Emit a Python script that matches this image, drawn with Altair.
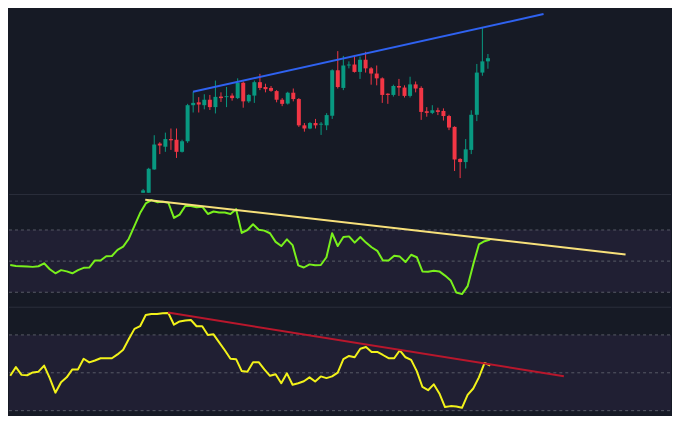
import altair as alt
import pandas as pd

# ---------------- data ----------------
# candle index 0..62
opens = [108, 108, 132.3, 159.3, 156, 164, 163.3, 150.7, 161.7, 199.3,
         202.3, 199.3, 205, 197.3, 208.3, 207.7, 209.3, 206.7, 222.7, 203.3,
         209.3, 223.3, 218.3, 217.3, 214, 205, 201, 212.3, 205.7, 178.3,
         175, 180.7, 179, 178.3, 188.3, 235.7, 217.3, 240.7, 241.7, 234,
         246.7, 237.7, 232.3, 227.3, 211.3, 210, 219.3, 217.7, 209, 221,
         217.3, 193, 191.3, 194, 193.3, 188, 176.7, 143.3, 140, 152.7,
         189.3, 233.3, 245]
closes = [110.5, 133, 158.3, 157.3, 164, 162.7, 150.7, 161.7, 199.3, 201.7,
          200, 205, 197.3, 208, 206.7, 208.7, 206.7, 222.7, 203.3, 210,
          223.3, 217.3, 216, 214.3, 205, 200.7, 212.3, 205.7, 178.3, 175,
          180.7, 178.3, 180, 189, 235.7, 218.3, 240.7, 241.7, 234, 246.7,
          237.7, 232.3, 227.3, 210, 210, 219.3, 217.7, 209, 221, 216.7,
          192.3, 191.3, 194, 192.3, 188, 176, 142.7, 140, 153.3, 189.3,
          233.3, 245, 248.3]
highs = [112, 134, 168, 160.7, 170.7, 175, 175, 163.3, 200.7, 213.3,
         207.7, 210.7, 210, 225, 212.7, 218.3, 211.7, 227.3, 224, 210.7,
         225, 232, 221.7, 219.3, 215, 206.7, 213.3, 216.7, 206.7, 180.7,
         181.7, 185, 181.7, 191, 236.7, 255.7, 250.7, 245, 251.7, 250,
         255, 239, 240.7, 228.3, 211.7, 220.7, 226.7, 220, 229, 224,
         219, 197.3, 199.3, 196.7, 196, 189.3, 177.3, 144, 164, 194,
         242.3, 280, 252.7]
lows = [108, 108, 132, 148.3, 150.7, 152.7, 144.3, 150, 160, 191.7,
        191.7, 195, 194.3, 190.7, 202.7, 197.3, 204, 205.7, 196.7, 201.7,
        201.7, 215, 212.7, 213.3, 202.3, 198.3, 200, 203.3, 176.7, 171.7,
        174.3, 175, 168.3, 173.3, 185, 216.7, 215, 237.7, 233.3, 226.7,
        233.3, 220.7, 220, 201.7, 200.7, 208.3, 209, 207.3, 207.3, 212.7,
        184, 187.3, 190, 189, 183.3, 173.3, 130.7, 123.3, 133.3, 148.3,
        182.7, 230, 237.3]

# RSI, index -23..62
rsi_start = -23
rsi = [47.5, 46.9, 46.7, 46.5, 46.3, 46.7, 48.6, 44.8, 42.2, 44.2,
       43.4, 42.2, 44.2, 45.7, 45.9, 50.4, 50.4, 53.1, 53.3, 57.2,
       59.3, 64.4, 72.7, 80.9, 87.1, 89.2, 87.9, 88.1, 87.5, 77.8,
       79.9, 85.4, 85.4, 84.6, 85.0, 80.3, 81.9, 81.3, 81.3, 80.3,
       83.4, 68.1, 70.0, 73.7, 70.2, 69.6, 67.9, 62.4, 59.7, 64.0,
       60.3, 47.3, 45.9, 47.9, 47.3, 47.5, 52.5, 67.9, 59.7, 65.5,
       65.9, 61.9, 65.5, 61.9, 58.9, 56.6, 50.4, 50.4, 53.5, 52.9,
       49.4, 54.1, 52.5, 43.4, 43.2, 43.8, 43.4, 40.7, 37.6, 29.8,
       28.8, 33.9, 47.9, 60.7, 62.8, 63.8]

# second oscillator, index -23..62
osc = [48.4, 53.0, 48.9, 48.7, 50.2, 50.6, 53.8, 47.2, 39.5, 45.0,
       47.6, 51.8, 51.8, 57.4, 55.5, 56.5, 57.7, 57.7, 57.7, 59.7,
       62.2, 67.8, 73.2, 74.6, 80.5, 81.0, 81.1, 81.5, 81.6, 75.4,
       77.1, 77.6, 77.9, 74.6, 74.6, 70.0, 70.3, 66.1, 61.9, 57.4,
       57.2, 50.9, 50.6, 55.6, 55.6, 51.8, 48.4, 49.2, 44.5, 49.7,
       43.7, 44.5, 45.5, 47.6, 45.4, 48.1, 47.2, 48.1, 50.1, 57.2,
       58.9, 58.2, 62.7, 63.6, 61.0, 61.0, 59.4, 57.7, 57.7, 61.9,
       58.2, 56.8, 50.9, 42.5, 40.8, 43.9, 39.1, 31.9, 32.4, 32.2,
       31.5, 38.3, 41.7, 47.6, 55.2, 53.8]

# trend lines (index, value)
price_trend_i = [8.97, 72.0]
price_trend_v = [213.3, 294.3]
rsi_trend_i = [0.91, 85.97]
rsi_trend_v = [89.5, 54.3]
osc_trend_i = [4.93, 75.05]
osc_trend_v = [81.8, 48.2]

levels = [70, 50, 30]

# ---------------- styling ----------------
W = 664
H_PRICE, H_RSI, H_OSC = 185, 113, 109
BG = "#161a25"
BAND = "#201f33"
SEP = "#2b2f3b"
UP, DOWN = "#089981", "#f23645"
X_DOMAIN = [-23.22, 94.02]

xenc = alt.X("i:Q", scale=alt.Scale(domain=X_DOMAIN, nice=False, zero=False), axis=None)

candles = pd.DataFrame({"i": list(range(len(opens))), "open": opens, "close": closes,
                        "high": highs, "low": lows})
candles["dir"] = ["up" if c >= o else "down" for o, c in zip(opens, closes)]

color = alt.Color("dir:N", scale=alt.Scale(domain=["up", "down"], range=[UP, DOWN]), legend=None)
py = alt.Scale(domain=[107.7, 300], nice=False, zero=False)

base_c = alt.Chart(candles)
wicks = base_c.mark_rule(strokeWidth=1).encode(
    x=xenc, y=alt.Y("low:Q", scale=py, axis=None), y2="high:Q", color=color)
bodies = base_c.mark_bar(size=4).encode(
    x=xenc, y=alt.Y("open:Q", scale=py, axis=None), y2="close:Q", color=color)
ptrend = alt.Chart(pd.DataFrame({"i": price_trend_i, "v": price_trend_v})).mark_line(
    color="#2f62f0", strokeWidth=2).encode(x=xenc, y=alt.Y("v:Q", scale=py, axis=None))

price_panel = alt.layer(wicks, bodies, ptrend).properties(width=W, height=H_PRICE)


def osc_panel(values, start, line_color, tr_i, tr_v, tr_color, domain, height):
    ys = alt.Scale(domain=domain, nice=False, zero=False)
    band = alt.Chart(pd.DataFrame({"hi": [levels[0]], "lo": [levels[-1]]})).mark_rect(
        color=BAND).encode(x=alt.value(0), x2=alt.value(W),
                            y=alt.Y("hi:Q", scale=ys, axis=None), y2="lo:Q")
    dashes = alt.Chart(pd.DataFrame({"lv": levels})).mark_rule(
        color="#575a66", strokeDash=[3, 3], strokeWidth=1).encode(
        x=alt.value(0), x2=alt.value(W), y=alt.Y("lv:Q", scale=ys, axis=None))
    sep = alt.Chart(pd.DataFrame({"s": [0]})).mark_rule(color=SEP, strokeWidth=1).encode(
        x=alt.value(0), x2=alt.value(W), y=alt.value(0.5))
    df = pd.DataFrame({"i": list(range(start, start + len(values))), "v": values})
    line = alt.Chart(df).mark_line(color=line_color, strokeWidth=2, strokeJoin="round").encode(
        x=xenc, y=alt.Y("v:Q", scale=ys, axis=None))
    trend = alt.Chart(pd.DataFrame({"i": tr_i, "v": tr_v})).mark_line(
        color=tr_color, strokeWidth=2).encode(x=xenc, y=alt.Y("v:Q", scale=ys, axis=None))
    return alt.layer(band, dashes, sep, line, trend).properties(width=W, height=height)


rsi_panel = osc_panel(rsi, rsi_start, "#79f01c", rsi_trend_i, rsi_trend_v, "#f7e07a",
                      [20.7, 93.1], H_RSI)
osc_panel3 = osc_panel(osc, rsi_start, "#f2f21a", osc_trend_i, osc_trend_v, "#b8172c",
                       [27.5, 84.9], H_OSC)

chart = alt.vconcat(price_panel, rsi_panel, osc_panel3, spacing=0).properties(
    background=BG, padding=0
).configure_view(stroke=None).configure_concat(spacing=0)

chart.save("out.html", embed_options={"renderer": "svg", "actions": False})
